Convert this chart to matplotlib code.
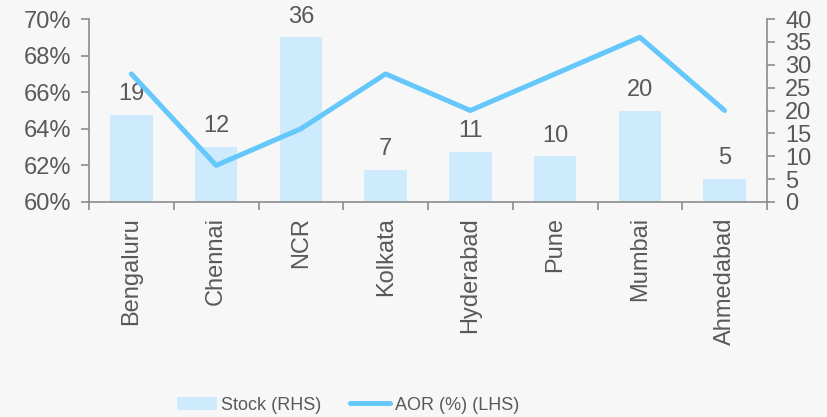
import matplotlib.pyplot as plt
from matplotlib.ticker import FuncFormatter

plt.rcParams['font.family'] = ['Liberation Sans', 'DejaVu Sans']

# ── Data ────────────────────────────────────────────────────────────────
cities = ["Bengaluru", "Chennai", "NCR", "Kolkata", "Hyderabad", "Pune", "Mumbai", "Ahmedabad"]
stock = [19, 12, 36, 7, 11, 10, 20, 5]          # RHS
aor = [67, 62, 64, 67, 65, 67, 69, 65]          # %, LHS

BG = "#f7f7f7"
BAR = "#cdebfd"
LINE = "#66c7fb"
TXT = "#595959"
AX = "#8c8c8c"
FS = 17

fig = plt.figure(figsize=(8.27, 4.17), dpi=100, facecolor=BG)
ax = fig.add_axes([89 / 827, 1 - 202 / 417, (767 - 89) / 827, (202 - 19) / 417])
ax.set_facecolor(BG)
ax2 = ax.twinx()

x = list(range(len(cities)))

# bars on RHS axis
bars = ax2.bar(x, stock, width=0.5, color=BAR, label="Stock (RHS)", zorder=1)
for xi, v in zip(x, stock):
    ax2.annotate(str(v), (xi, v), xytext=(0, 7), textcoords="offset points",
                 ha="center", va="bottom", fontsize=FS, color=TXT)
ax2.set_ylim(0, 40)
ax2.set_yticks(range(0, 41, 5))

# line on LHS axis (drawn above bars)
ax.set_zorder(ax2.get_zorder() + 1)
ax.patch.set_visible(False)
line, = ax.plot(x, aor, color=LINE, lw=3.6, label="AOR (%) (LHS)", solid_capstyle="round")
ax.set_ylim(60, 70)
ax.set_yticks(range(60, 71, 2))
ax.yaxis.set_major_formatter(FuncFormatter(lambda v, p: f"{v:.0f}%"))

ax.set_xlim(-0.5, len(cities) - 0.5)
ax.set_xticks([i - 0.5 for i in range(len(cities) + 1)])
ax.set_xticklabels([])
ax.set_xticks(x, minor=True)
ax.set_xticklabels(cities, minor=True, rotation=90, fontsize=FS, color=TXT)
ax.tick_params(axis="x", which="minor", length=0, pad=11)

for a in (ax, ax2):
    for s in a.spines.values():
        s.set_visible(False)
    a.tick_params(axis="both", which="major", colors=AX, labelcolor=TXT, labelsize=FS, length=6, width=1.2)
ax.spines["left"].set_visible(True)
ax.spines["bottom"].set_visible(True)
ax2.spines["right"].set_visible(True)
for s in (ax.spines["left"], ax.spines["bottom"], ax2.spines["right"]):
    s.set_color(AX)
    s.set_linewidth(1.2)
ax.tick_params(axis="y", pad=7)
ax2.tick_params(axis="y", pad=7)

fig.legend([bars, line], ["Stock (RHS)", "AOR (%) (LHS)"], loc="center left",
           bbox_to_anchor=(177 / 827, 1 - 405 / 417), ncol=2, frameon=False,
           fontsize=13, labelcolor=TXT, handlelength=2.2, handletextpad=0.25,
           columnspacing=1.6, borderaxespad=0, borderpad=0)

fig.savefig("out.png", dpi=100, facecolor=BG)
